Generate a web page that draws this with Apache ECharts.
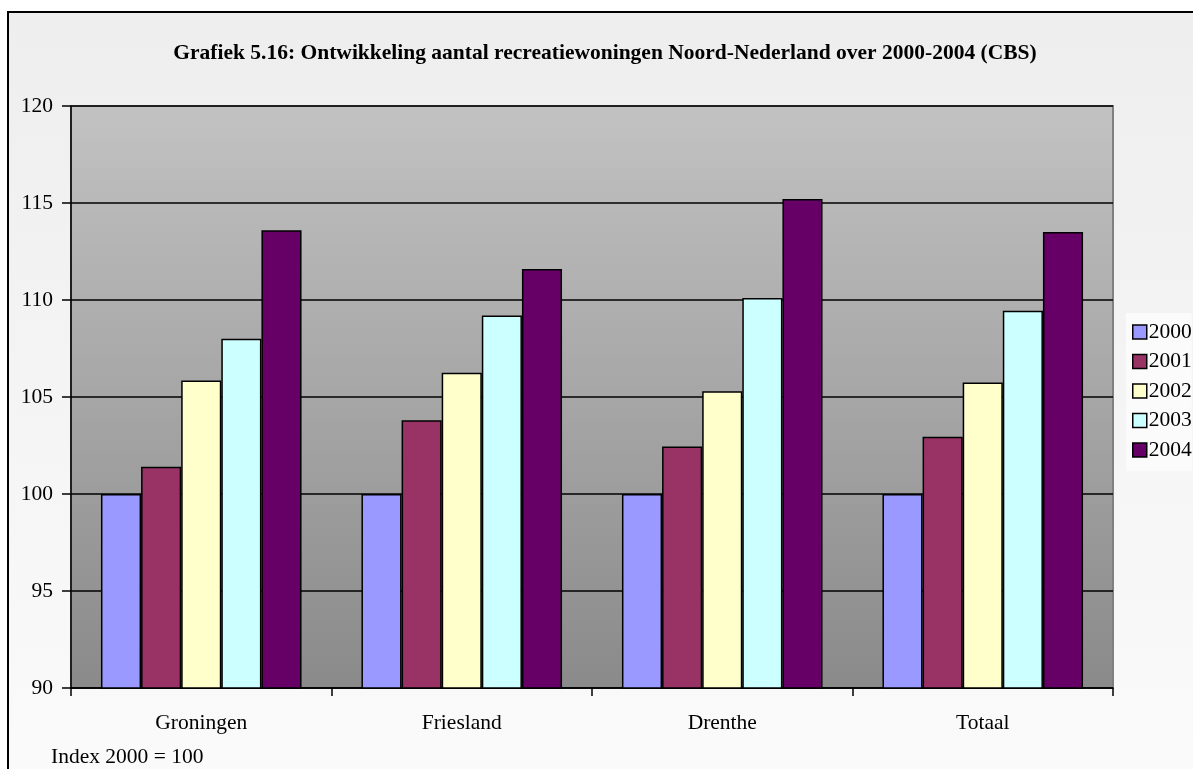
<!DOCTYPE html>
<html>
<head>
<meta charset="utf-8">
<script src="https://cdn.jsdelivr.net/npm/echarts@6/dist/echarts.min.js"></script>
<style>
  html, body { margin:0; padding:0; background:#ffffff; }
  #frame { position:absolute; left:7px; top:11px; width:1200px; height:800px; border:2px solid #000; background:linear-gradient(#eeeeee, #fbfbfb); box-sizing:border-box; }
  #chart { position:absolute; left:0; top:0; width:1193px; height:769px; }
</style>
</head>
<body>
<div id="frame"></div>
<div id="chart"></div>
<script>
const categories = ['Groningen', 'Friesland', 'Drenthe', 'Totaal'];
const years = ['2000', '2001', '2002', '2003', '2004'];
const v2000 = [100, 100, 100, 100];
const v2001 = [101.4, 103.8, 102.45, 102.95];
const v2002 = [105.85, 106.25, 105.3, 105.75];
const v2003 = [108.0, 109.2, 110.1, 109.45];
const v2004 = [113.6, 111.6, 115.2, 113.5];
const yTicks = [90, 95, 100, 105, 110, 115, 120];
const colors = ['#9999ff', '#993366', '#ffffcc', '#ccffff', '#660066'];
const seriesValues = [v2000, v2001, v2002, v2003, v2004];

const font = '"Liberation Serif", "Times New Roman", serif';
const fs = 21.5;
const chart = echarts.init(document.getElementById('chart'), null, {renderer:'canvas'});
chart.setOption({
  backgroundColor: 'transparent',
  animation: false,
  title: {
    text: 'Grafiek 5.16: Ontwikkeling aantal recreatiewoningen Noord-Nederland over 2000-2004 (CBS)',
    left: 600, top: 37, textAlign: 'center',
    textStyle: { fontFamily: font, fontWeight: 'bold', fontSize: 21.5, color: '#000' }
  },
  legend: {
    orient: 'vertical', left: 1126, top: 313,
    data: years,
    icon: 'rect', itemWidth: 14, itemHeight: 14, itemGap: 7.5,
    backgroundColor: '#fbfbfb', padding: [8, 0, 10, 6],
    textStyle: { fontFamily: font, fontSize: fs, lineHeight: 22, color: '#000', padding: [0, 0, 0, -3] },
    itemStyle: { borderColor: '#000', borderWidth: 1.5 }
  },
  grid: {
    left: 71, top: 106, width: 1042, height: 582,
    show: true, borderColor: '#808080', borderWidth: 2,
    backgroundColor: new echarts.graphic.LinearGradient(0, 0, 0, 1, [
      { offset: 0, color: '#c2c2c2' }, { offset: 1, color: '#8a8a8a' }
    ])
  },
  xAxis: {
    type: 'category', data: categories,
    axisLine: { show: true, lineStyle: { color: '#000', width: 1.5 } },
    axisTick: { show: true, length: 8, inside: false, lineStyle: { color: '#000', width: 1.5 } },
    axisLabel: { fontFamily: font, fontSize: fs, color: '#000', margin: 24 }
  },
  yAxis: {
    type: 'value', min: yTicks[0], max: yTicks[yTicks.length - 1], interval: 5,
    axisLine: { show: true, lineStyle: { color: '#000', width: 1.5 } },
    axisTick: { show: true, length: 9, lineStyle: { color: '#000', width: 1.5 } },
    axisLabel: { fontFamily: font, fontSize: fs, color: '#000', margin: 18 },
    splitLine: { show: true, lineStyle: { color: '#000', width: 1.5 } }
  },
  series: years.map((y, i) => ({
    name: y, type: 'bar', data: seriesValues[i],
    barGap: '0%', barCategoryGap: '23%',
    itemStyle: { color: colors[i], borderColor: '#000', borderWidth: 1.5 }
  })),
  graphic: [{
    type: 'text', left: 51, top: 746,
    style: { text: 'Index 2000 = 100', fontFamily: font, fontSize: fs, fill: '#000' }
  }]
});
</script>
</body>
</html>
